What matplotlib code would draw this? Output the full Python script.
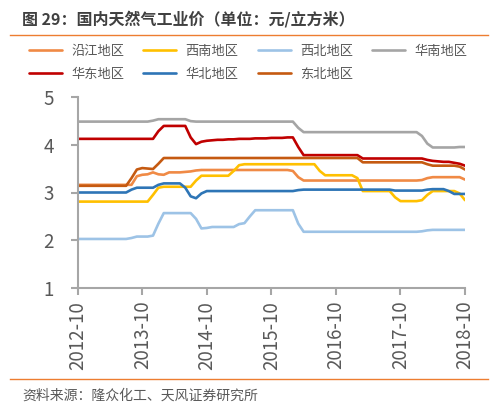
import matplotlib
matplotlib.use("Agg")
import matplotlib.pyplot as plt
from matplotlib.lines import Line2D

plt.rcParams['font.family'] = ['Noto Sans CJK SC', 'DejaVu Sans']

# ---- data (monthly, 2012-10 .. 2018-10) ----
months = list(range(73))
tick_pos = [0, 12, 24, 36, 48, 60, 72]
tick_labels = ["2012-10", "2013-10", "2014-10", "2015-10", "2016-10", "2017-10", "2018-10"]

yanjiang = [3.16]*11 + [3.34, 3.37, 3.38, 3.42, 3.38, 3.37, 3.42, 3.42, 3.42, 3.43, 3.44, 3.46, 3.47] \
    + [3.47]*16 + [3.45, 3.32] + [3.25]*22 + [3.26, 3.30, 3.32, 3.32, 3.32, 3.32, 3.32, 3.32, 3.27]
xinan = [2.81]*14 + [2.95, 3.10] + [3.12]*6 + [3.25] + [3.35]*6 + [3.45, 3.57] + [3.59]*14 \
    + [3.45] + [3.36]*6 + [3.30] + [3.03]*6 + [2.90] + [2.82]*4 + [2.84, 2.95] + [3.03]*5 + [2.98, 2.84]
xibei = [2.03]*10 + [2.05, 2.08, 2.08, 2.08, 2.10, 2.35] + [2.57]*6 + [2.45, 2.25, 2.26] \
    + [2.28]*5 + [2.34, 2.36, 2.50] + [2.63]*8 + [2.35] + [2.18]*22 + [2.19, 2.21] + [2.22]*7
huanan = [4.48]*14 + [4.50, 4.53] + [4.53]*5 + [4.49] + [4.48]*19 + [4.35] + [4.26]*22 \
    + [4.18, 4.02] + [3.94]*5 + [3.95, 3.95]
huadong = [4.12]*15 + [4.28] + [4.39]*5 + [4.15, 4.01, 4.06, 4.08, 4.09, 4.10, 4.10, 4.11, 4.11, 4.12] \
    + [4.12, 4.12, 4.13, 4.13, 4.13, 4.14, 4.14, 4.14, 4.15, 4.15] + [3.95] + [3.78]*11 + [3.71]*12 \
    + [3.68, 3.66, 3.65, 3.64, 3.64, 3.62, 3.60, 3.56]
huabei = [3.00]*10 + [3.06, 3.10, 3.10, 3.10, 3.10, 3.16] + [3.19]*4 + [3.10, 2.92, 2.88, 2.98] \
    + [3.03]*17 + [3.05] + [3.06]*17 + [3.04]*6 + [3.06, 3.07, 3.07, 3.07, 3.03, 2.97, 2.97, 2.97]
dongbei = [3.14]*10 + [3.30, 3.48, 3.51, 3.50, 3.49, 3.60] + [3.72]*37 + [3.63]*12 \
    + [3.59, 3.56, 3.56, 3.56, 3.56, 3.56, 3.54, 3.48]

series = [
    ("沿江地区", yanjiang, "#F08A45"),
    ("西南地区", xinan, "#FFC000"),
    ("西北地区", xibei, "#9DC3E6"),
    ("华南地区", huanan, "#A5A5A5"),
    ("华东地区", huadong, "#C00000"),
    ("华北地区", huabei, "#2E75B6"),
    ("东北地区", dongbei, "#C55A11"),
]

W, H = 498, 409
fig = plt.figure(figsize=(W/100, H/100), dpi=100)
ax = fig.add_axes([77.7/W, 1-288.3/H, (465-77.7)/W, (288.3-96.7)/H])

handles = {}
for name, vals, col in series:
    ln, = ax.plot(months[:len(vals)], vals, color=col, lw=1.9, solid_joinstyle='round',
                  solid_capstyle='round', label=name)
    handles[name] = ln

ax.set_xlim(0, 72)
ax.set_ylim(1, 5)
ax.set_yticks([1, 2, 3, 4, 5])
ax.set_xticks(tick_pos)
ax.set_xticklabels(tick_labels, rotation=90)
for s in ['top', 'right']:
    ax.spines[s].set_visible(False)
for s in ['left', 'bottom']:
    ax.spines[s].set_color('#A6A6A6')
    ax.spines[s].set_linewidth(1.5)
ax.tick_params(axis='both', colors='#A6A6A6', width=1.5, length=5, direction='out',
               labelcolor='#595959', labelsize=13.5)
ax.tick_params(axis='x', pad=4)
ax.tick_params(axis='y', pad=12)
ax.patch.set_alpha(0)

# legend (row-major order)
order = ["沿江地区", "华东地区", "西南地区", "华北地区", "西北地区", "东北地区", "华南地区"]
leg = fig.legend([handles[n] for n in order], order, ncol=4, loc='upper left',
                 bbox_to_anchor=(29/W, 1-45/H), frameon=False, fontsize=9.5,
                 handlelength=2.5, handletextpad=0.7, columnspacing=1.45,
                 labelspacing=0.75, borderpad=0, borderaxespad=0)
for t in leg.get_texts():
    t.set_color('#595959')

# title and rules
fig.text(22/W, 1-19/H, "图 29：国内天然气工业价（单位：元/立方米）", fontsize=11.5,
         fontweight='bold', color='#404040', va='center', ha='left')
fig.add_artist(Line2D([10/W, 488/W], [1-35/H, 1-35/H], color='#ED7D31', lw=1.0))
fig.add_artist(Line2D([10/W, 488/W], [1-379/H, 1-379/H], color='#ED7D31', lw=1.0))
fig.text(22/W, 1-396/H, "资料来源：隆众化工、天风证券研究所", fontsize=10,
         color='#595959', va='center', ha='left')

fig.savefig("out.png", dpi=100)
